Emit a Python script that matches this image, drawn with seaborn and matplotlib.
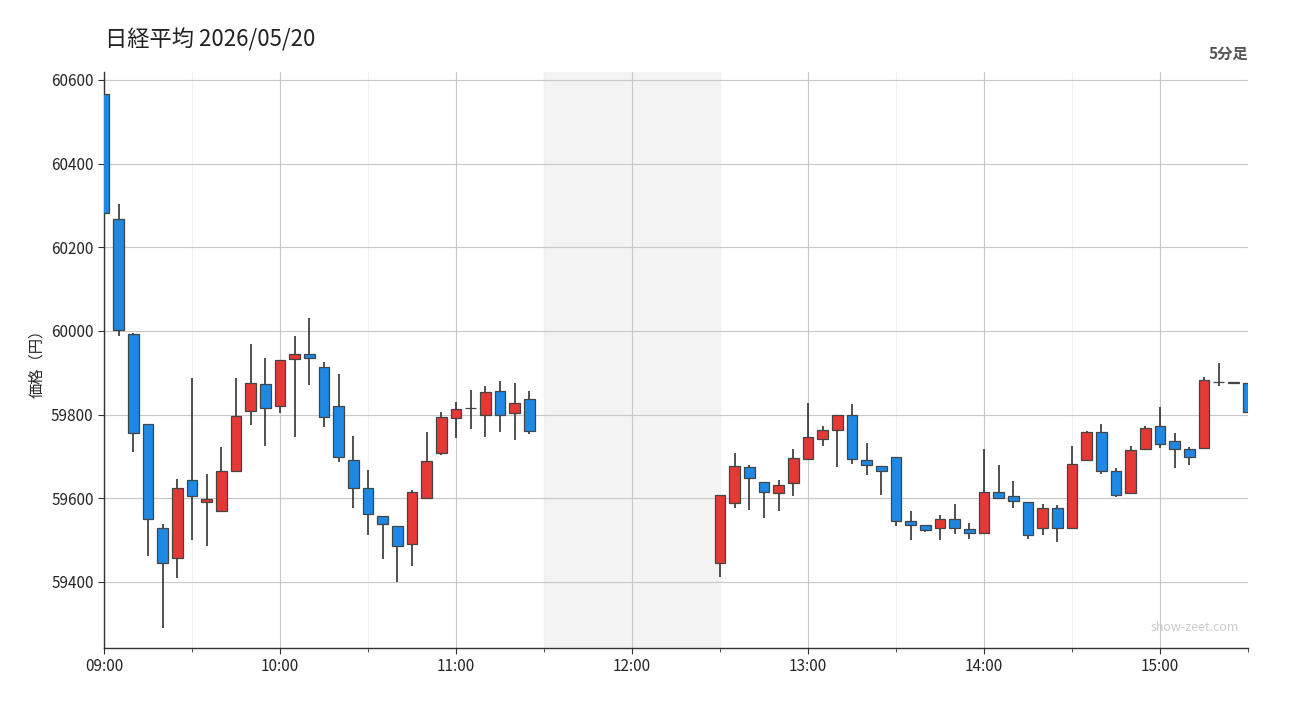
import matplotlib
matplotlib.use("Agg")
import matplotlib.pyplot as plt
import seaborn as sns
import numpy as np
import pandas as pd

times_am = ["09:00","09:05","09:10","09:15","09:20","09:25","09:30","09:35","09:40","09:45",
            "09:50","09:55","10:00","10:05","10:10","10:15","10:20","10:25","10:30","10:35",
            "10:40","10:45","10:50","10:55","11:00","11:05","11:10","11:15","11:20","11:25"]
open_am  = [60567,60268,59993,59778,59529,59458,59644,59590,59570,59665,59809,59873,59821,59933,59945,59914,59821,59692,59625,59558,59534,59491,59601,59708,59792,59815,59799,59857,59804,59838]
high_am  = [60570,60304,59995,59778,59539,59646,59888,59658,59723,59888,59969,59936,59931,59988,60031,59926,59897,59749,59668,59558,59534,59620,59759,59807,59830,59859,59869,59881,59876,59857]
low_am   = [60275,59988,59711,59462,59290,59410,59501,59486,59570,59665,59775,59725,59804,59747,59871,59771,59687,59577,59513,59455,59400,59438,59601,59704,59744,59766,59747,59759,59740,59754]
close_am = [60282,60002,59756,59551,59446,59625,59606,59598,59665,59797,59876,59816,59931,59945,59936,59795,59699,59625,59563,59539,59486,59615,59689,59795,59814,59816,59854,59799,59828,59761]

times_pm = ["12:30","12:35","12:40","12:45","12:50","12:55","13:00","13:05","13:10","13:15",
            "13:20","13:25","13:30","13:35","13:40","13:45","13:50","13:55","14:00","14:05",
            "14:10","14:15","14:20","14:25","14:30","14:35","14:40","14:45","14:50","14:55",
            "15:00","15:05","15:10","15:15","15:20","15:25","15:30"]
open_pm  = [59446,59589,59675,59639,59613,59637,59694,59742,59763,59799,59692,59677,59699,59546,59537,59529,59551,59527,59517,59615,59606,59591,59529,59577,59529,59692,59759,59665,59613,59718,59773,59737,59718,59721,59877,59876,59876]
high_pm  = [59608,59708,59680,59639,59644,59718,59828,59773,59799,59826,59732,59677,59699,59570,59537,59560,59587,59541,59718,59680,59642,59591,59587,59584,59725,59761,59778,59672,59725,59773,59818,59757,59723,59890,59924,59876,59876]
low_pm   = [59412,59577,59572,59553,59570,59606,59694,59725,59675,59682,59656,59608,59534,59501,59520,59501,59515,59503,59517,59601,59577,59503,59513,59496,59529,59692,59658,59603,59613,59718,59721,59672,59680,59721,59869,59876,59807]
close_pm = [59608,59677,59649,59615,59632,59697,59747,59763,59799,59694,59680,59665,59546,59537,59525,59551,59529,59517,59615,59601,59594,59513,59577,59529,59682,59759,59665,59608,59716,59768,59730,59718,59699,59883,59878,59876,59807]

xtick_labels = ["09:00","10:00","11:00","12:00","13:00","14:00","15:00"]

def to_min(t):
    h, m = t.split(":")
    return (int(h) - 9) * 60 + int(m)

df = pd.DataFrame({
    "t": times_am + times_pm,
    "o": open_am + open_pm, "h": high_am + high_pm,
    "l": low_am + low_pm, "c": close_am + close_pm,
})
df["x"] = df["t"].map(to_min)

sns.set_style("white")
plt.rcParams['font.family'] = ['Noto Sans CJK JP', 'DejaVu Sans']

fig = plt.figure(figsize=(13, 7.2), dpi=100)
ax = fig.add_axes([0.08, 0.1, 0.88, 0.8])

ax.axvspan(150, 210, color="#f3f3f3", zorder=0)
for m in range(0, 391, 60):
    ax.axvline(m, color="#c8c8c8", lw=0.8, zorder=1)
for m in range(30, 391, 60):
    ax.axvline(m, color="#f0f0f0", lw=0.8, zorder=1)
for p in range(59400, 60601, 200):
    ax.axhline(p, color="#c8c8c8", lw=0.8, zorder=1)

up = df["c"] >= df["o"]
ax.vlines(df["x"], df["l"], df["h"], color="#222222", lw=1.1, zorder=2)
bottoms = np.minimum(df["o"], df["c"])
heights = np.maximum(np.abs(df["c"] - df["o"]), 1.2)
colors = np.where(up, "#e53935", "#1e88e5")
ax.bar(df["x"], heights, bottom=bottoms, width=3.7, color=colors,
       edgecolor="#444444", linewidth=0.9, zorder=3)

ax.set_xlim(0, 390)
ax.set_ylim(59242, 60619)
ax.set_xticks([to_min(t) for t in xtick_labels])
ax.set_xticklabels(xtick_labels, fontsize=11)
ax.set_xticks(range(30, 391, 60), minor=True)
ax.set_yticks(range(59400, 60601, 200))
ax.set_yticklabels([str(v) for v in range(59400, 60601, 200)], fontsize=11)
ax.tick_params(axis="both", which="both", length=4, color="#333333", direction="out",
               bottom=True, left=True)
ax.tick_params(axis="x", which="minor", length=3)
for s in ["top", "right"]:
    ax.spines[s].set_visible(False)
for s in ["left", "bottom"]:
    ax.spines[s].set_color("#333333")
    ax.spines[s].set_linewidth(1)

ax.set_ylabel("価格（円）", fontsize=11)
fig.text(0.081, 0.935, "日経平均 2026/05/20", fontsize=16, color="#222222")
fig.text(0.96, 0.918, "5分足", fontsize=11, fontweight="bold", color="#555555", ha="right")
ax.text(0.992, 0.03, "show-zeet.com", transform=ax.transAxes, ha="right",
        fontsize=9, color="#cccccc")

fig.savefig("out.png", dpi=100)
